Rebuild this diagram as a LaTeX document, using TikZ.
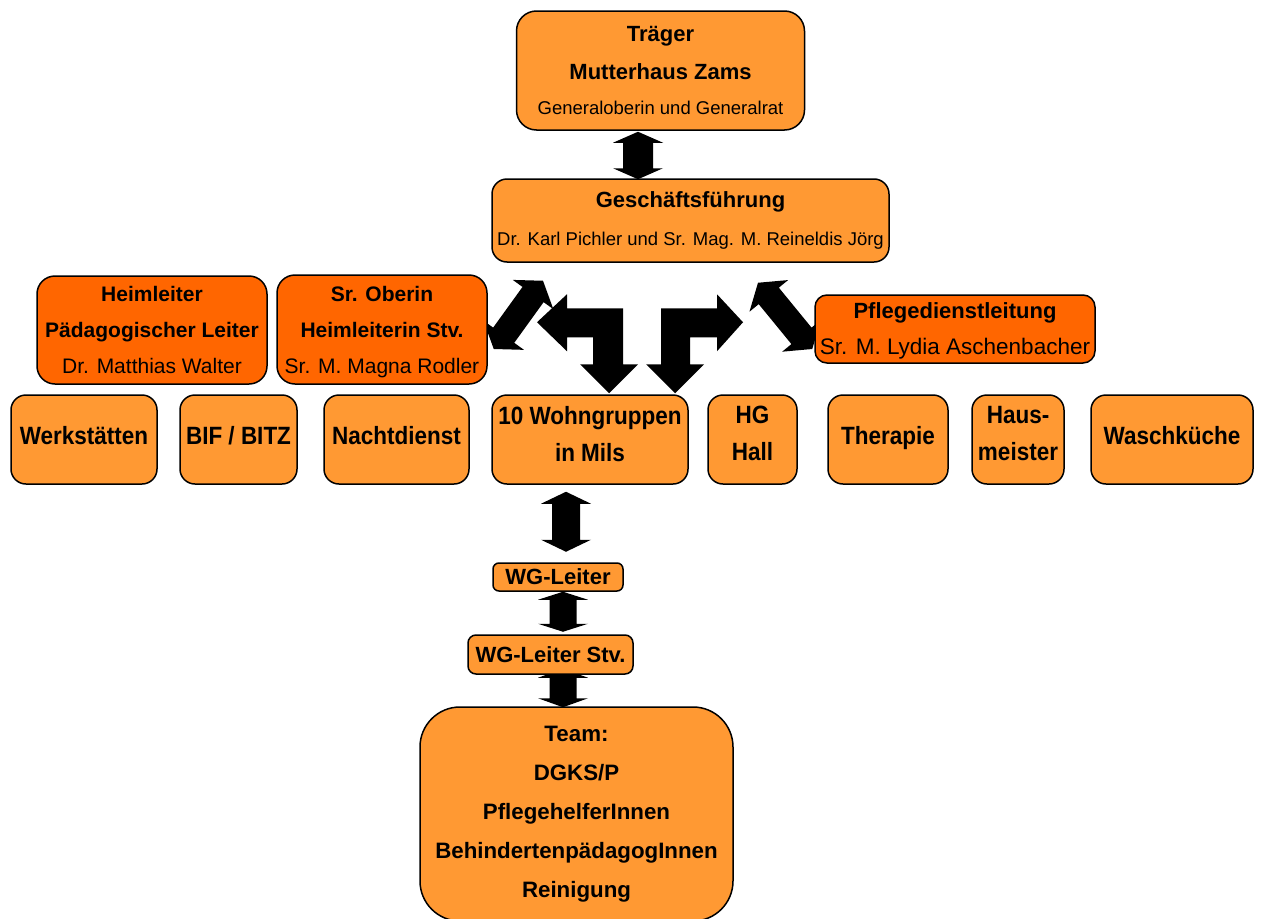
\documentclass[tikz,border=0pt]{standalone}
\usepackage{fontspec}
\setmainfont{Liberation Sans}
\usepackage{graphicx}
\usetikzlibrary{calc}
\definecolor{lorange}{HTML}{FF9933}
\definecolor{dorange}{HTML}{FF6600}
\pgfdeclarelayer{background}
\pgfsetlayers{background,main}
\newcommand\cnd[1]{\scalebox{0.9}[1]{#1}}
\newcommand\sbt[1]{{\mdseries\fontsize{18.5}{38}\selectfont #1}}
% block double arrow: #1 head length, #2 shaft half width, #3 head half width, #4 start, #5 end
\newcommand\dblarr[5]{\fill (#4)
 -- ($(#4)!#1pt!(#5)!#3pt!90:(#5)$)
 -- ($(#4)!#1pt!(#5)!#2pt!90:(#5)$)
 -- ($(#5)!#1pt!(#4)!#2pt!-90:(#4)$)
 -- ($(#5)!#1pt!(#4)!#3pt!-90:(#4)$)
 -- (#5)
 -- ($(#5)!#1pt!(#4)!#3pt!90:(#4)$)
 -- ($(#5)!#1pt!(#4)!#2pt!90:(#4)$)
 -- ($(#4)!#1pt!(#5)!#2pt!-90:(#5)$)
 -- ($(#4)!#1pt!(#5)!#3pt!-90:(#5)$)
 -- cycle;}
\tikzset{
 box/.style={draw=black, line width=1.5pt, fill=lorange, align=center, inner sep=0pt,
   font=\bfseries\fontsize{22}{38}\selectfont},
 dbox/.style={box, fill=dorange, rounded corners=18pt, font=\bfseries\fontsize{21}{36}\selectfont},
 rowbox/.style={box, minimum height=89pt, rounded corners=15pt, text depth=9pt,
   font=\bfseries\fontsize{25}{37}\selectfont},
 rowbox2/.style={rowbox, text depth=12pt},
}
\begin{document}
\begin{tikzpicture}[x=1pt,y=-1pt]
\useasboundingbox (0,0) rectangle (1263,918);

\node[box, minimum width=288pt, minimum height=119pt, rounded corners=20pt] (traeger) at (660.5,70.5)
 {Träger\\Mutterhaus Zams\\[-3pt]\sbt{Generaloberin und Generalrat}};
\node[box, minimum width=397pt, minimum height=83pt, rounded corners=15pt] (gf) at (690.5,220.5)
 {Geschäftsführung\\\sbt{Dr. Karl Pichler und Sr. Mag. M. Reineldis Jörg}};

\node[dbox, minimum width=230pt, minimum height=108pt] (heim) at (152,330)
 {Heimleiter\\Pädagogischer Leiter\\\mdseries Dr. Matthias Walter};
\node[dbox, minimum width=210pt, minimum height=109pt, text depth=0pt] (oberin) at (382,329.5)
 {Sr. Oberin\\Heimleiterin Stv.\\\mdseries Sr. M. Magna Rodler};
\node[dbox, minimum width=280pt, minimum height=68pt, rounded corners=12pt, text depth=-3pt,
 font=\bfseries\fontsize{22}{36}\selectfont] (pfl) at (955,329)
 {Pflegedienstleitung\\\mdseries\fontsize{22.5}{36}\selectfont Sr. M. Lydia Aschenbacher};

\node[rowbox, minimum width=146pt] (werk) at (84,439.5) {\cnd{Werkstätten}};
\node[rowbox, minimum width=117pt] (bif) at (238.5,439.5) {\cnd{BIF / BITZ}};
\node[rowbox, minimum width=145pt] (nacht) at (396.5,439.5) {\cnd{Nachtdienst}};
\node[rowbox2, minimum width=196pt] (wohn) at (590,439.5) {\cnd{10 Wohngruppen}\\\cnd{in Mils}};
\node[rowbox2, minimum width=89pt] (hg) at (752.5,439.5) {\cnd{HG}\\\cnd{Hall}};
\node[rowbox, minimum width=120pt] (ther) at (888,439.5) {\cnd{Therapie}};
\node[rowbox2, minimum width=92pt] (haus) at (1018,439.5) {\cnd{Haus-}\\\cnd{meister}};
\node[rowbox, minimum width=162pt] (wasch) at (1172,439.5) {\cnd{Waschküche}};

\node[box, minimum width=130pt, minimum height=28pt, rounded corners=6pt] (wgl) at (558,577) {WG-Leiter};
\node[box, minimum width=165pt, minimum height=39pt, rounded corners=8pt] (wgs) at (550.5,654.5) {WG-Leiter Stv.};
\node[box, minimum width=313pt, minimum height=214pt, rounded corners=40pt,
 font=\bfseries\fontsize{22.3}{39}\selectfont] (team) at (576.5,814)
 {Team:\\DGKS/P\\PflegehelferInnen\\BehindertenpädagogInnen\\Reinigung};

% connector end points
\coordinate (a1s) at ($(traeger.south)+(-22.5,1)$);
\coordinate (a1e) at ($(gf.north)+(-52.5,1)$);
\coordinate (a2s) at ($(wohn.south)+(-24,7)$);
\coordinate (a2e) at ($(wohn.south)+(-24,67)$);
\coordinate (a3s) at ($(wgl.south)+(5,0)$);
\coordinate (a3e) at ($(wgl.south)+(5,40)$);
\coordinate (a4s) at ($(wgs.south)+(12.5,-6)$);
\coordinate (a4e) at ($(team.north)+(-13.5,1)$);
\coordinate (dls) at ($(oberin.east)+(6,19.5)$);
\coordinate (dle) at ($(gf.south)+(-147.5,18)$);
\coordinate (drs) at ($(gf.south)+(67.5,20)$);
\coordinate (dre) at ($(pfl.west)+(-2,20)$);

\begin{pgfonlayer}{background}
\fill[white] (0,0) rectangle (1263,918);
\dblarr{11}{15}{25}{a1s}{a1e}
\dblarr{12}{14}{25}{a2s}{a2e}
\dblarr{8}{13.5}{25}{a3s}{a3e}
\dblarr{9}{13.5}{25}{a4s}{a4e}
\dblarr{17}{13}{25}{dls}{dle}
\dblarr{17}{13}{25}{drs}{dre}
\begin{scope}[shift={(wohn.north)}]
\fill (-53,-72) -- (-23,-100) -- (-23,-86) -- (33,-86) -- (33,-30) -- (48,-30) -- (19,-1)
 -- (-10,-30) -- (3,-30) -- (3,-57) -- (-23,-57) -- (-23,-43) -- cycle;
\fill (153,-72) -- (127,-100) -- (127,-86) -- (71,-86) -- (71,-30) -- (56,-30) -- (85,-1)
 -- (114,-30) -- (100,-30) -- (100,-57) -- (127,-57) -- (127,-43) -- cycle;
\end{scope}
\end{pgfonlayer}
\end{tikzpicture}
\end{document}
